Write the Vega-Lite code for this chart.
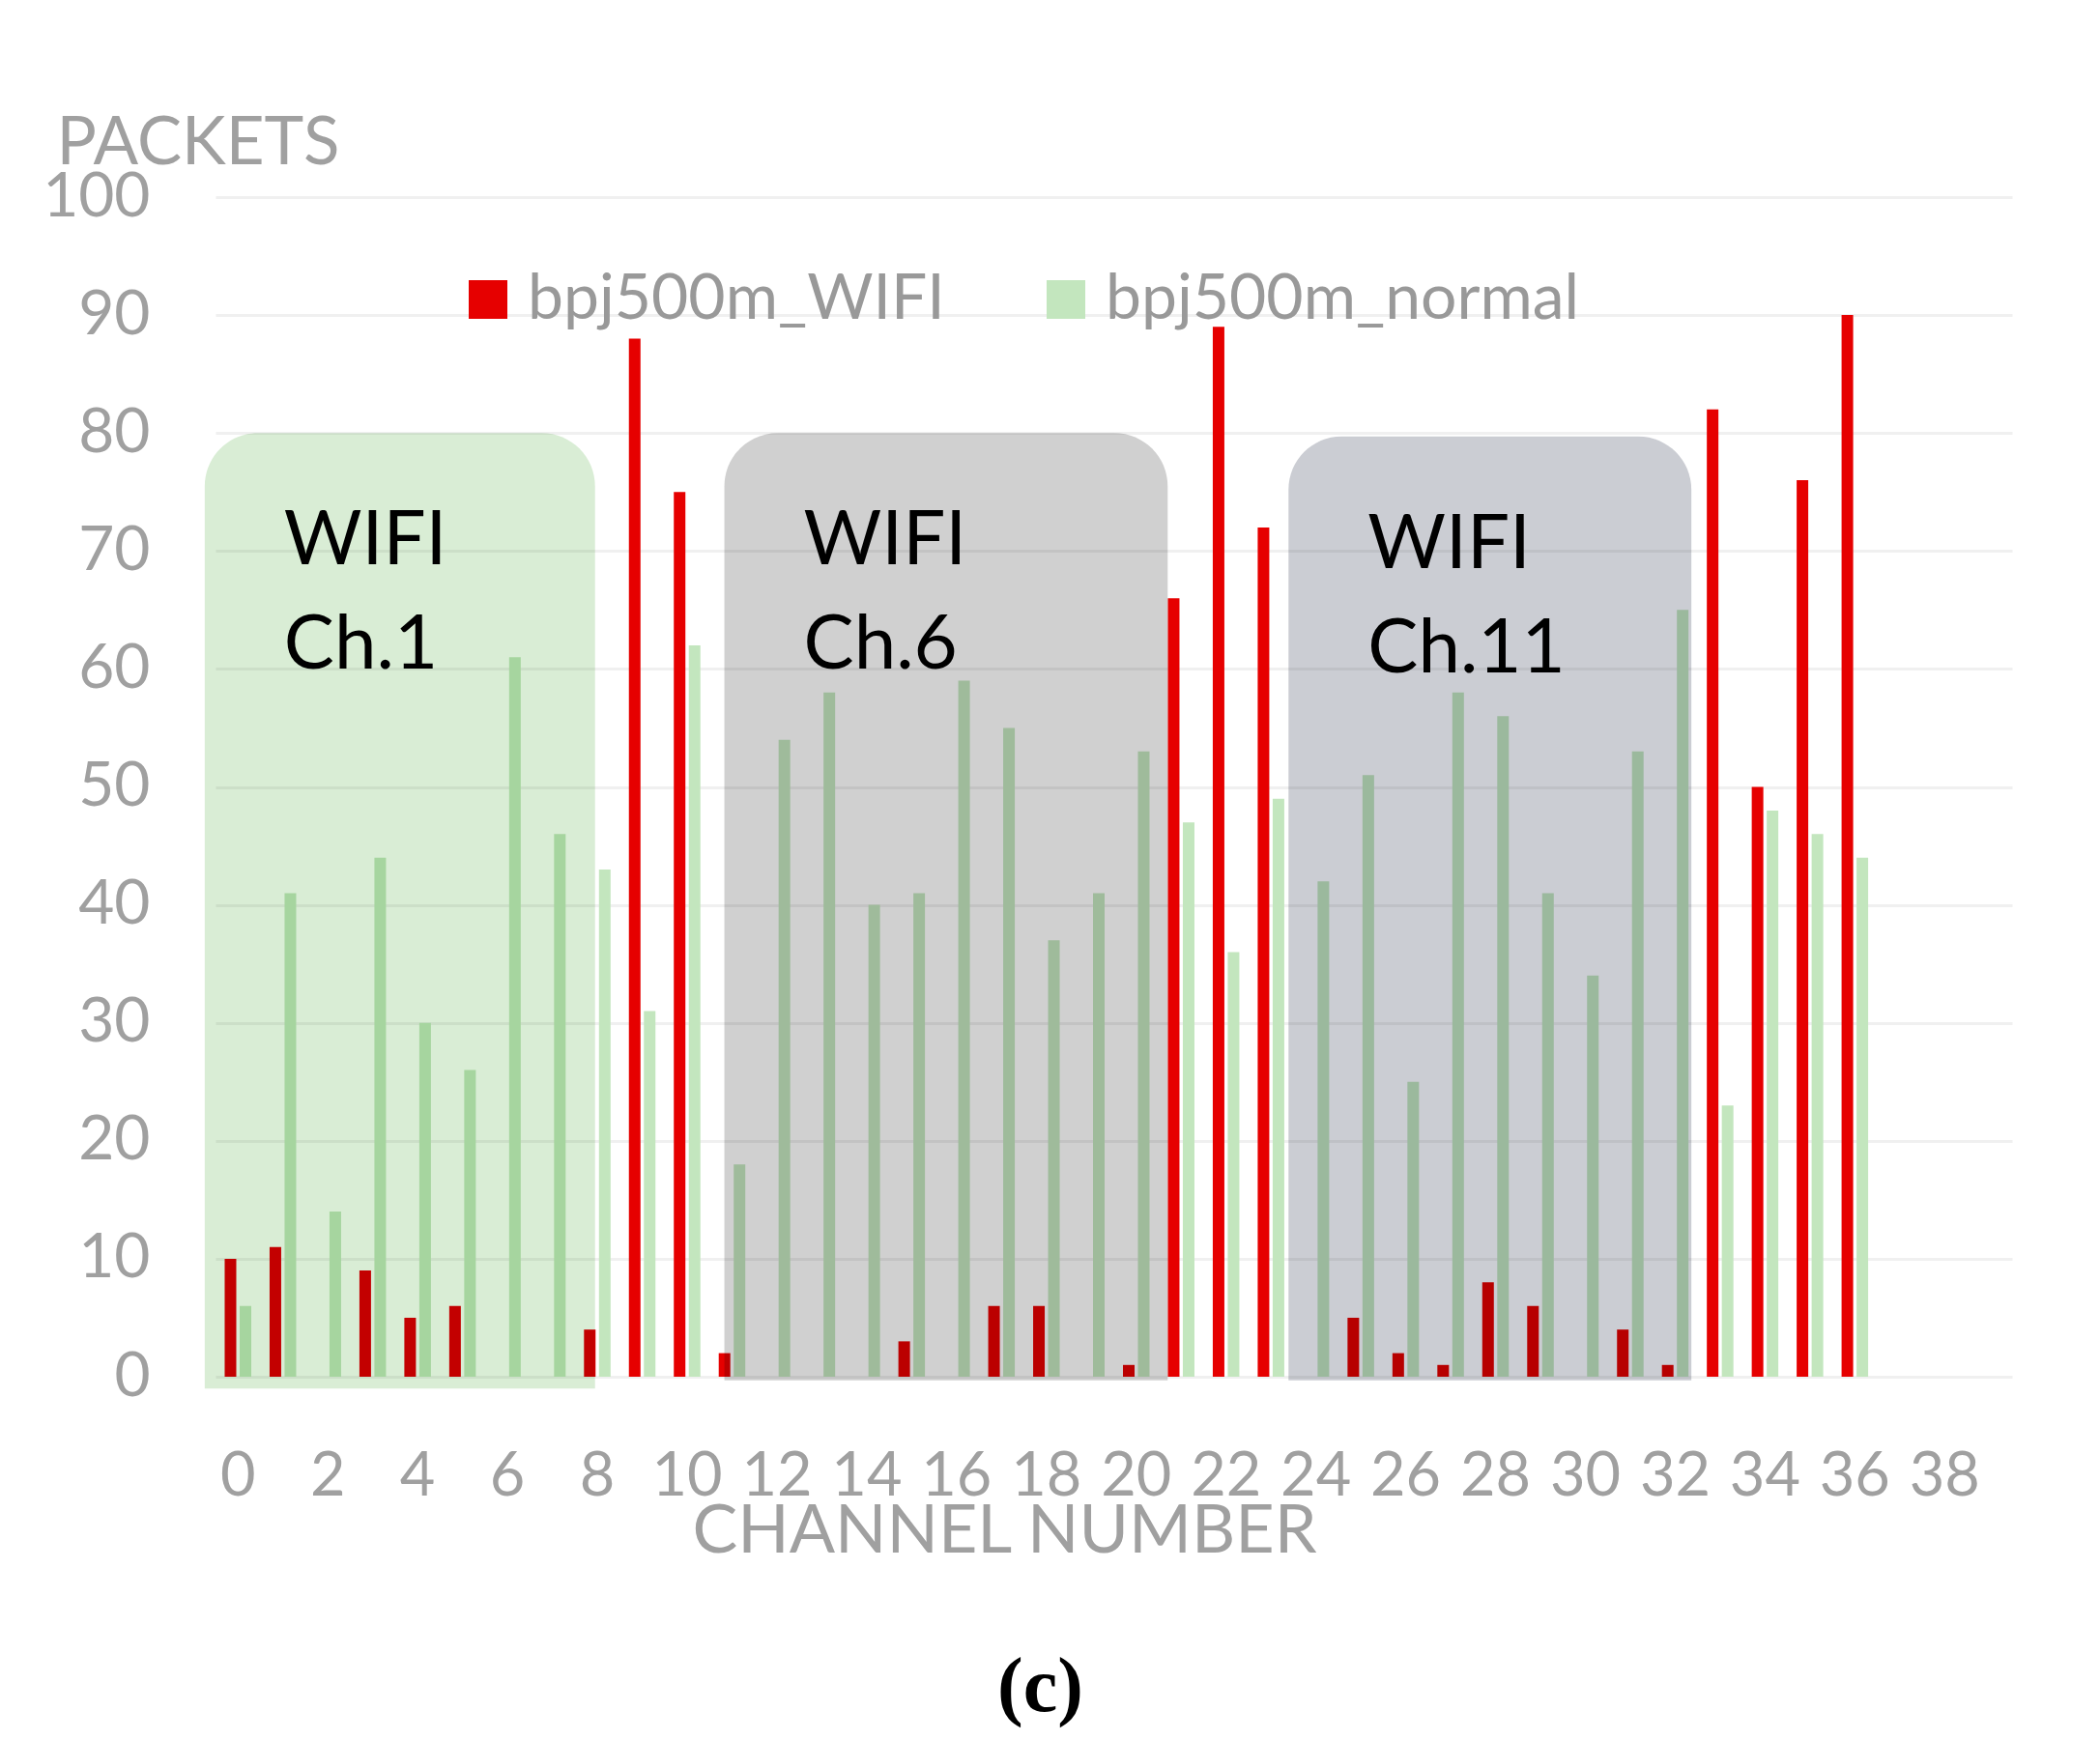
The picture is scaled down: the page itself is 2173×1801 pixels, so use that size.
{
  "$schema": "https://vega.github.io/schema/vega-lite/v6.json",
  "width": 1859,
  "height": 1221,
  "autosize": {"type": "none"},
  "padding": {"left": 223, "top": 204, "right": 91, "bottom": 376},
  "background": "white",
  "config": {"view": {"stroke": null}, "font": "Lato"},
  "title": {
    "text": "(c)",
    "orient": "bottom",
    "frame": "group",
    "anchor": "middle",
    "dx": -76,
    "offset": 88,
    "baseline": "top",
    "font": "Liberation Serif",
    "fontWeight": "bold",
    "fontSize": 80,
    "color": "black"
  },
  "datasets": {
    "packets": [
      {"channel": 0, "series": "bpj500m_WIFI", "packets": 10},
      {"channel": 1, "series": "bpj500m_WIFI", "packets": 11},
      {"channel": 3, "series": "bpj500m_WIFI", "packets": 9},
      {"channel": 4, "series": "bpj500m_WIFI", "packets": 5},
      {"channel": 5, "series": "bpj500m_WIFI", "packets": 6},
      {"channel": 8, "series": "bpj500m_WIFI", "packets": 4},
      {"channel": 9, "series": "bpj500m_WIFI", "packets": 88},
      {"channel": 10, "series": "bpj500m_WIFI", "packets": 75},
      {"channel": 11, "series": "bpj500m_WIFI", "packets": 2},
      {"channel": 15, "series": "bpj500m_WIFI", "packets": 3},
      {"channel": 17, "series": "bpj500m_WIFI", "packets": 6},
      {"channel": 18, "series": "bpj500m_WIFI", "packets": 6},
      {"channel": 20, "series": "bpj500m_WIFI", "packets": 1},
      {"channel": 21, "series": "bpj500m_WIFI", "packets": 66},
      {"channel": 22, "series": "bpj500m_WIFI", "packets": 89},
      {"channel": 23, "series": "bpj500m_WIFI", "packets": 72},
      {"channel": 25, "series": "bpj500m_WIFI", "packets": 5},
      {"channel": 26, "series": "bpj500m_WIFI", "packets": 2},
      {"channel": 27, "series": "bpj500m_WIFI", "packets": 1},
      {"channel": 28, "series": "bpj500m_WIFI", "packets": 8},
      {"channel": 29, "series": "bpj500m_WIFI", "packets": 6},
      {"channel": 31, "series": "bpj500m_WIFI", "packets": 4},
      {"channel": 32, "series": "bpj500m_WIFI", "packets": 1},
      {"channel": 33, "series": "bpj500m_WIFI", "packets": 82},
      {"channel": 34, "series": "bpj500m_WIFI", "packets": 50},
      {"channel": 35, "series": "bpj500m_WIFI", "packets": 76},
      {"channel": 36, "series": "bpj500m_WIFI", "packets": 90},
      {"channel": 0, "series": "bpj500m_normal", "packets": 6},
      {"channel": 1, "series": "bpj500m_normal", "packets": 41},
      {"channel": 2, "series": "bpj500m_normal", "packets": 14},
      {"channel": 3, "series": "bpj500m_normal", "packets": 44},
      {"channel": 4, "series": "bpj500m_normal", "packets": 30},
      {"channel": 5, "series": "bpj500m_normal", "packets": 26},
      {"channel": 6, "series": "bpj500m_normal", "packets": 61},
      {"channel": 7, "series": "bpj500m_normal", "packets": 46},
      {"channel": 8, "series": "bpj500m_normal", "packets": 43},
      {"channel": 9, "series": "bpj500m_normal", "packets": 31},
      {"channel": 10, "series": "bpj500m_normal", "packets": 62},
      {"channel": 11, "series": "bpj500m_normal", "packets": 18},
      {"channel": 12, "series": "bpj500m_normal", "packets": 54},
      {"channel": 13, "series": "bpj500m_normal", "packets": 58},
      {"channel": 14, "series": "bpj500m_normal", "packets": 40},
      {"channel": 15, "series": "bpj500m_normal", "packets": 41},
      {"channel": 16, "series": "bpj500m_normal", "packets": 59},
      {"channel": 17, "series": "bpj500m_normal", "packets": 55},
      {"channel": 18, "series": "bpj500m_normal", "packets": 37},
      {"channel": 19, "series": "bpj500m_normal", "packets": 41},
      {"channel": 20, "series": "bpj500m_normal", "packets": 53},
      {"channel": 21, "series": "bpj500m_normal", "packets": 47},
      {"channel": 22, "series": "bpj500m_normal", "packets": 36},
      {"channel": 23, "series": "bpj500m_normal", "packets": 49},
      {"channel": 24, "series": "bpj500m_normal", "packets": 42},
      {"channel": 25, "series": "bpj500m_normal", "packets": 51},
      {"channel": 26, "series": "bpj500m_normal", "packets": 25},
      {"channel": 27, "series": "bpj500m_normal", "packets": 58},
      {"channel": 28, "series": "bpj500m_normal", "packets": 56},
      {"channel": 29, "series": "bpj500m_normal", "packets": 41},
      {"channel": 30, "series": "bpj500m_normal", "packets": 34},
      {"channel": 31, "series": "bpj500m_normal", "packets": 53},
      {"channel": 32, "series": "bpj500m_normal", "packets": 65},
      {"channel": 33, "series": "bpj500m_normal", "packets": 23},
      {"channel": 34, "series": "bpj500m_normal", "packets": 48},
      {"channel": 35, "series": "bpj500m_normal", "packets": 46},
      {"channel": 36, "series": "bpj500m_normal", "packets": 44}
    ],
    "bands": [
      {"band": "Ch.1", "label": "WIFI\nCh.1", "from": -0.74, "to": 7.95, "top": 80, "bottom": -1.0},
      {"band": "Ch.6", "label": "WIFI\nCh.6", "from": 10.83, "to": 20.7, "top": 80, "bottom": -0.3},
      {"band": "Ch.11", "label": "WIFI\nCh.11", "from": 23.39, "to": 32.36, "top": 79.7, "bottom": -0.3}
    ]
  },
  "layer": [
    {
      "data": {"name": "packets"},
      "mark": {"type": "bar"},
      "encoding": {
        "x": {
          "field": "channel",
          "type": "ordinal",
          "scale": {
            "domain": [0,1,2,3,4,5,6,7,8,9,10,11,12,13,14,15,16,17,18,19,20,21,22,23,24,25,26,27,28,29,30,31,32,33,34,35,36,37,38,39],
            "paddingInner": 0,
            "paddingOuter": 0
          },
          "axis": {
            "title": "CHANNEL NUMBER",
            "values": [0,2,4,6,8,10,12,14,16,18,20,22,24,26,28,30,32,34,36,38],
            "labelAngle": 0,
            "labelFontSize": 63,
            "labelColor": "#A0A0A0",
            "labelPadding": 72,
            "labelOverlap": false,
            "ticks": false,
            "domain": false,
            "grid": false,
            "titleFontSize": 70,
            "titleColor": "#A0A0A0",
            "titleFontWeight": "normal",
            "titleX": 816,
            "titleY": 181,
            "titleAlign": "center",
            "titleBaseline": "alphabetic"
          }
        },
        "xOffset": {
          "field": "series",
          "type": "nominal",
          "scale": {"domain": ["bpj500m_WIFI", "bpj500m_normal"], "paddingInner": 0.226, "paddingOuter": 0.612}
        },
        "y": {
          "field": "packets",
          "type": "quantitative",
          "title": "PACKETS",
          "scale": {"domain": [0, 100], "nice": false},
          "axis": {
            "title": "PACKETS",
            "values": [0,10,20,30,40,50,60,70,80,90,100],
            "grid": true,
            "gridColor": "#F0F0F0",
            "gridWidth": 3,
            "ticks": false,
            "domain": false,
            "labelFontSize": 64,
            "labelColor": "#A0A0A0",
            "labelPadding": 68,
            "titleAngle": 0,
            "titleAlign": "left",
            "titleBaseline": "alphabetic",
            "titleX": -165,
            "titleY": -35,
            "titleFontSize": 69,
            "titleColor": "#A0A0A0",
            "titleFontWeight": "normal"
          }
        },
        "color": {
          "field": "series",
          "type": "nominal",
          "scale": {"domain": ["bpj500m_WIFI", "bpj500m_normal"], "range": ["#E60000", "#C3E6BE"]},
          "legend": {
            "title": null,
            "orient": "none",
            "legendX": 249,
            "legendY": 73,
            "direction": "horizontal",
            "columns": 2,
            "symbolType": "square",
            "symbolSize": 1600,
            "symbolStrokeWidth": 0,
            "symbolOpacity": 1,
            "labelFontSize": 66,
            "labelColor": "#999999",
            "labelOffset": 8,
            "columnPadding": 92,
            "padding": 0,
            "labelLimit": 0
          }
        }
      }
    },
    {
      "data": {"name": "bands"},
      "mark": {"type": "rect", "blend": "multiply", "cornerRadiusTopLeft": 55, "cornerRadiusTopRight": 55},
      "encoding": {
        "x": {"field": "from", "type": "quantitative", "scale": {"domain": [-0.5, 39.5], "nice": false, "zero": false}, "axis": null},
        "x2": {"field": "to"},
        "y": {"field": "top", "type": "quantitative", "title": "PACKETS"},
        "y2": {"field": "bottom"},
        "fill": {
          "field": "band",
          "type": "nominal",
          "scale": {"domain": ["Ch.1", "Ch.6", "Ch.11"], "range": ["#D9EDD5", "#D0D0D0", "#CBCDD3"]},
          "legend": null
        }
      }
    },
    {
      "data": {"name": "bands"},
      "mark": {
        "type": "text",
        "align": "left",
        "baseline": "alphabetic",
        "dx": 82,
        "dy": 136,
        "fontSize": 78,
        "font": "Lato",
        "color": "black",
        "lineBreak": "\n",
        "lineHeight": 108
      },
      "encoding": {
        "x": {"field": "from", "type": "quantitative", "scale": {"domain": [-0.5, 39.5], "nice": false, "zero": false}, "axis": null},
        "y": {"field": "top", "type": "quantitative", "title": "PACKETS"},
        "text": {"field": "label"}
      }
    }
  ],
  "resolve": {"scale": {"x": "independent"}}
}
